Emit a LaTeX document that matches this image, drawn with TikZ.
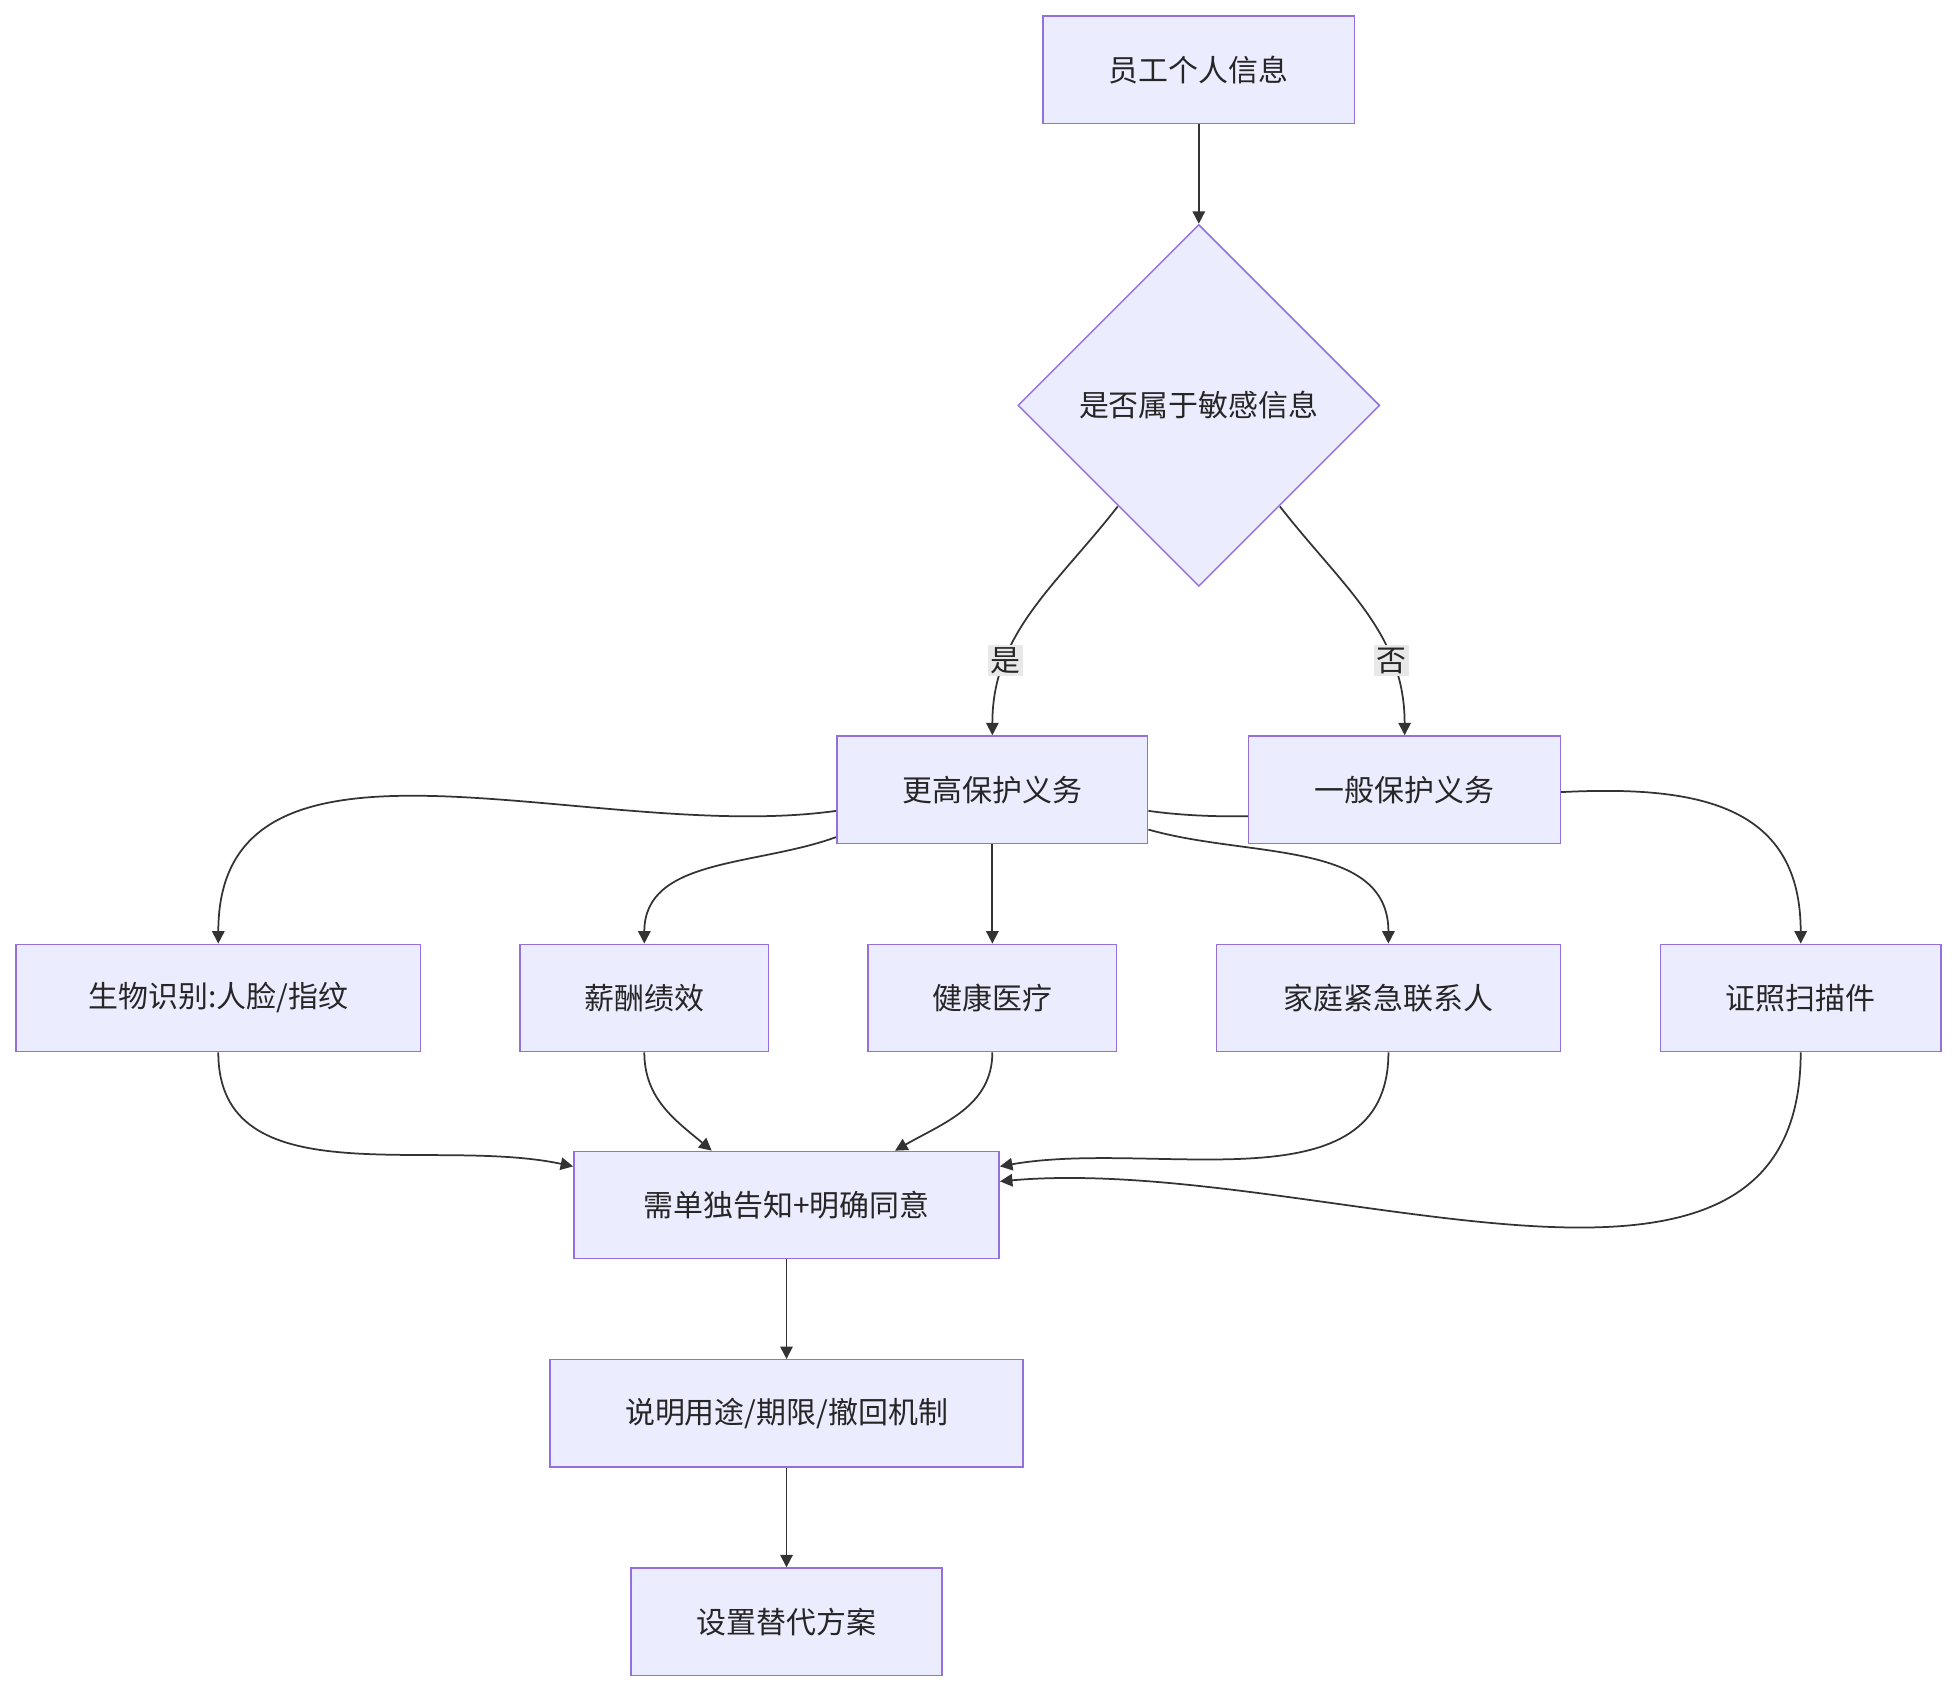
\documentclass[tikz,border=0pt]{standalone}
\usepackage{fontspec}
\setmainfont{Noto Sans CJK SC}
\usetikzlibrary{shapes.geometric,arrows.meta,calc,backgrounds}
\definecolor{boxfill}{HTML}{ECECFF}
\definecolor{boxline}{HTML}{9370DB}
\definecolor{edgeline}{HTML}{333333}
\tikzset{
every picture/.style={x=0.5pt,y=-0.5pt},
box/.style={rectangle,draw=boxline,fill=boxfill,line width=0.6pt,
            minimum height=43pt,font=\fontsize{12}{14}\selectfont,text=black!85},
decision/.style={diamond,draw=boxline,fill=boxfill,line width=0.6pt,aspect=1,
            inner sep=0pt,minimum width=145pt,minimum height=145pt,
            font=\fontsize{12}{14}\selectfont,text=black!85},
link/.style={draw=edgeline,line width=0.7pt,-{Triangle[length=5pt,width=5pt]}},
tag/.style={fill=black!9,inner sep=1pt,font=\fontsize{12}{14}\selectfont,text=black!85}
}
\begin{document}
\begin{tikzpicture}
\useasboundingbox (0,0) rectangle (1568,1356);
%%%% nodes
\node[box,minimum width=125pt] (info) at (961,56) {员工个人信息};
\node[decision] (sens) at (961,325) {是否属于敏感信息};
\node[box,minimum width=124.5pt] (high) at (795.5,633) {更高保护义务};
\node[box,minimum width=125pt] (normal) at (1126,633) {一般保护义务};
\node[box,minimum width=162pt] (bio) at (175,800) {生物识别:人脸/指纹};
\node[box,minimum width=99.5pt] (pay) at (516.5,800) {薪酬绩效};
\node[box,minimum width=99.5pt] (health) at (795.5,800) {健康医疗};
\node[box,minimum width=138pt] (family) at (1113,800) {家庭紧急联系人};
\node[box,minimum width=112.5pt] (scan) at (1443.5,800) {证照扫描件};
\node[box,minimum width=170.5pt] (consent) at (630.5,966) {需单独告知+明确同意};
\node[box,minimum width=189.5pt] (explain) at (630.5,1133) {说明用途/期限/撤回机制};
\node[box,minimum width=124.5pt] (alt) at (630.5,1300) {设置替代方案};
%%%% connectors
\begin{scope}[on background layer]
\draw[link] (info) -- (sens);
\draw[link] ($(sens.center)+(-65,81)$) to[out=-128,in=90]
  node[tag,pos=0.72] (yes) {是} (high.north);
\draw[link] ($(sens.center)+(65,81)$) to[out=-52,in=90]
  node[tag,pos=0.72] (no) {否} (normal.north);
\draw[link] ($(high.west)+(0,17)$) to[out=188,in=90] (bio.north);
\draw[link] ($(high.west)+(0,38)$) to[out=200,in=90] (pay.north);
\draw[link] (high) -- (health);
\draw[link] ($(high.east)+(0,32)$) to[out=-16,in=90] (family.north);
\draw[link] ($(high.east)+(0,17)$) to[out=-8,in=90] (scan.north);
\draw[link] (bio.south) to[out=-90,in=168] ($(consent.west)+(0,-31)$);
\draw[link] (pay.south) to[out=-90,in=140] ($(consent.north)+(-60,0)$);
\draw[link] (health.south) to[out=-90,in=30] ($(consent.north)+(87,0)$);
\draw[link] (family.south) to[out=-90,in=10] ($(consent.east)+(0,-31)$);
\draw[link] (scan.south) to[out=-90,in=5] ($(consent.east)+(0,-19)$);
\draw[link] (consent) -- (explain);
\draw[link] (explain) -- (alt);
\end{scope}
\end{tikzpicture}
\end{document}
